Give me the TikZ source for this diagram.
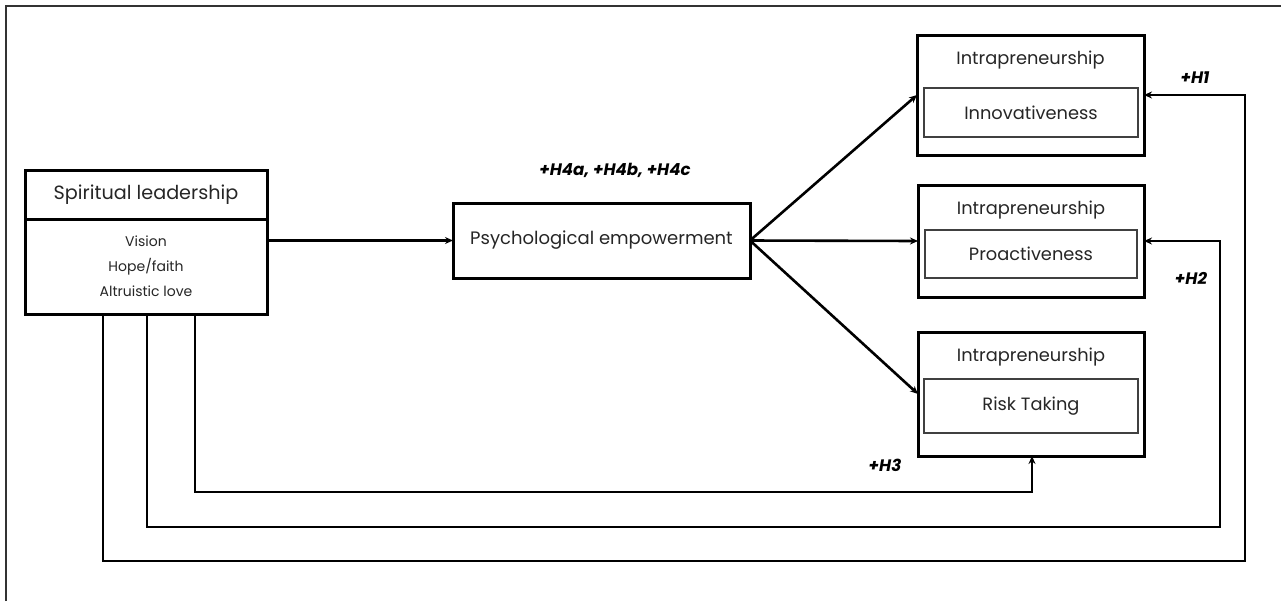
\documentclass[tikz,border=0pt]{standalone}
\usepackage{fontspec}
\setmainfont{Poppins}
\usetikzlibrary{arrows.meta,positioning}

\begin{document}
\begin{tikzpicture}[
    >=Stealth,
    x=0.5pt,
    y=-0.5pt,
    every node/.style={font=\fontsize{8.9}{10}\selectfont, text=black!85},
    mainbox/.style={draw, line width=1.5pt, fill=white, inner sep=0pt, outer sep=0pt},
    innerbox/.style={draw, line width=0.6pt, black!75, text=black!85, inner sep=0pt},
    itemtext/.style={font=\fontsize{7}{12.5}\selectfont, align=center},
    hyplabel/.style={font=\fontsize{8.3}{10}\selectfont\bfseries\itshape, text=black},
    mainarrow/.style={-{Stealth[length=4pt, width=3.5pt]}, line width=1.3pt}
  ]
  \useasboundingbox (0,0) rectangle (1281,601);
  %
  \draw[line width=0.8pt, black!80] (6,601) -- (6,6) -- (1281,6);

  %
  \node[mainbox, minimum width=121pt, minimum height=24.5pt, font=\fontsize{9.6}{11}\selectfont] (slhead) at (146,194.5) {Spiritual leadership};
  \node[mainbox, itemtext, minimum width=121pt, minimum height=47.5pt, below=0pt of slhead] (slbody) {Vision\\Hope/faith\\Altruistic love};

  \node[mainbox, minimum width=148.5pt, minimum height=37.5pt, font=\fontsize{9}{11}\selectfont] (psych) at (601.5,240.5) {Psychological empowerment};
  \node[hyplabel] (h4) at (615,170) {+H4a, +H4b, +H4c};

  %
  \node[mainbox, minimum width=113.5pt, minimum height=60pt] (ent1) at (1030.5,95) {};
  \node (ent1t) at (1030.5,60) {Intrapreneurship};
  \node[innerbox, minimum width=107pt, minimum height=24.5pt] (innov) at (1031,112.5) {Innovativeness};

  \node[mainbox, minimum width=113pt, minimum height=56pt] (ent2) at (1031,241) {};
  \node (ent2t) at (1031,210) {Intrapreneurship};
  \node[innerbox, minimum width=106pt, minimum height=24pt] (proact) at (1031,254) {Proactiveness};

  \node[mainbox, minimum width=113pt, minimum height=62pt] (ent3) at (1031,394) {};
  \node (ent3t) at (1031,357) {Intrapreneurship};
  \node[innerbox, minimum width=107pt, minimum height=27pt] (risk) at (1031,406) {Risk Taking};

  %
  \draw[mainarrow] (slbody.east |- psych.west) -- (psych.west);
  \draw[mainarrow] (psych.east) -- (ent1.west);
  \draw[mainarrow] (psych.east) -- (ent2.west);
  \draw[mainarrow] (psych.east) -- (ent3.west);

  %
  \coordinate (h1corner) at (1245,561);
  \coordinate (h2corner) at (1220,527);
  \coordinate (h3corner) at (1032,492);
  \draw[mainarrow] (slbody.south -| 103,0) |- (h1corner) |- (ent1.east);
  \draw[mainarrow] (slbody.south -| 147,0) |- (h2corner) |- (ent2.east);
  \draw[mainarrow] (slbody.south -| 195,0) |- (h3corner) -- (ent3.south -| h3corner);

  \node[hyplabel] (h1) at (1195,78) {+H1};
  \node[hyplabel] (h2) at (1191,278) {+H2};
  \node[hyplabel] (h3) at (885,465) {+H3};
\end{tikzpicture}
\end{document}
